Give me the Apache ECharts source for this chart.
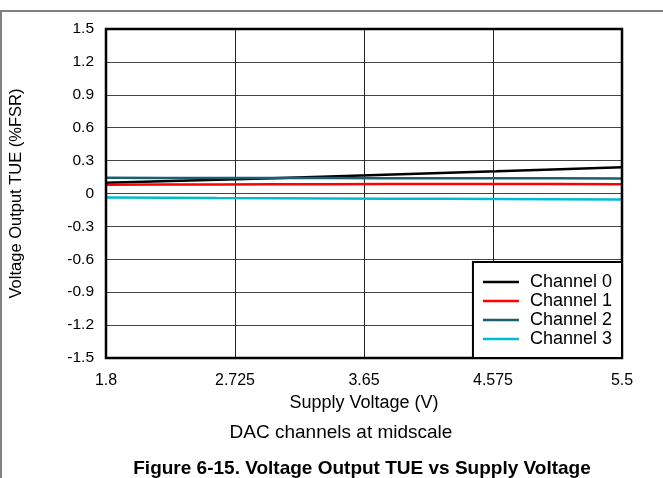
<!DOCTYPE html>
<html>
<head>
<meta charset="utf-8">
<script src="https://cdn.jsdelivr.net/npm/echarts@6/dist/echarts.min.js"></script>
<style>
html,body{margin:0;padding:0;background:#fff;}
#c{width:663px;height:478px;}
</style>
</head>
<body>
<div id="c"></div>
<script>
var xTickLabels = ['1.8', '2.725', '3.65', '4.575', '5.5'];
var supplyVoltage = [1.8, 2.2, 2.6, 3.0, 3.4, 3.8, 4.2, 4.6, 5.0, 5.5];
var channel0 = [0.098, 0.112, 0.126, 0.140, 0.155, 0.170, 0.186, 0.202, 0.219, 0.240];
var channel1 = [0.080, 0.082, 0.083, 0.084, 0.085, 0.086, 0.086, 0.087, 0.086, 0.085];
var channel2 = [0.143, 0.142, 0.142, 0.141, 0.141, 0.140, 0.139, 0.139, 0.138, 0.137];
var channel3 = [-0.036, -0.039, -0.042, -0.044, -0.046, -0.048, -0.049, -0.051, -0.052, -0.054];
var seriesNames = ['Channel 0', 'Channel 1', 'Channel 2', 'Channel 3'];
var seriesColors = ['#000000', '#ff0000', '#1b5e6e', '#00bcd0'];
var seriesValues = [channel0, channel1, channel2, channel3];

function pairs(xs, ys) { return xs.map(function (x, i) { return [x, ys[i]]; }); }

var chart = echarts.init(document.getElementById('c'), null, { renderer: 'canvas' });
var font = 'Arial, "Liberation Sans", sans-serif';

var series = seriesNames.map(function (n, i) {
  return {
    name: n, type: 'line', xAxisIndex: 1, yAxisIndex: 0,
    data: pairs(supplyVoltage, seriesValues[i]),
    showSymbol: false, symbol: 'none', smooth: false,
    lineStyle: { color: seriesColors[i], width: 2.5 },
    itemStyle: { color: seriesColors[i] },
    z: 3
  };
});

var option = {
  animation: false,
  backgroundColor: '#fff',
  grid: { left: 103, right: 41, top: 29, bottom: 120, show: true, borderColor: '#000', borderWidth: 2.5, backgroundColor: 'transparent', z: 5 },
  legend: {
    right: 41, bottom: 120, orient: 'vertical',
    backgroundColor: '#fff', borderColor: '#000', borderWidth: 2,
    padding: [11, 10, 10, 10], itemGap: 1, itemWidth: 36, itemHeight: 16,
    icon: 'path://M0,0 L36,0 L36,2.5 L0,2.5 Z',
    textStyle: { fontFamily: font, fontSize: 18, lineHeight: 16, color: '#000', padding: [0, 0, 0, 6] },
    data: seriesNames.map(function (n, i) { return { name: n, itemStyle: { color: seriesColors[i] } }; }),
    z: 10
  },
  xAxis: [
    {
      type: 'value', min: 0, max: 4, interval: 1, position: 'bottom',
      name: 'Supply Voltage (V)', nameLocation: 'middle', nameGap: 32,
      nameTextStyle: { fontFamily: font, fontSize: 18, color: '#000' },
      axisLine: { show: false }, axisTick: { show: false },
      axisLabel: { fontFamily: font, fontSize: 16, color: '#000', margin: 15,
        formatter: function (v) { return xTickLabels[Math.round(v)]; } },
      splitLine: { show: true, lineStyle: { color: '#222', width: 1 } }
    },
    {
      type: 'value', min: 1.8, max: 5.5, position: 'bottom', show: false,
      splitLine: { show: false }
    }
  ],
  yAxis: [{
    type: 'value', min: -1.5, max: 1.5, interval: 0.3,
    name: 'Voltage Output TUE (%FSR)', nameLocation: 'middle', nameGap: 81,
    nameTextStyle: { fontFamily: font, fontSize: 16.5, color: '#000' },
    axisLine: { show: false }, axisTick: { show: false },
    axisLabel: { fontFamily: font, fontSize: 15.5, color: '#000', margin: 12,
      formatter: function (v) { var r = Math.round(v * 10) / 10; return r === 0 ? '0' : String(r); } },
    splitLine: { show: true, lineStyle: { color: '#444', width: 1 } }
  }],
  graphic: [
    { type: 'line', shape: { x1: 0, y1: 11, x2: 663, y2: 11 }, style: { stroke: '#808080', lineWidth: 2 } },
    { type: 'line', shape: { x1: 1, y1: 11, x2: 1, y2: 478 }, style: { stroke: '#808080', lineWidth: 2 } },
    { type: 'text', x: 341, y: 433, style: { text: 'DAC channels at midscale', font: '19px ' + font, fill: '#000', textAlign: 'center', textVerticalAlign: 'middle' } },
    { type: 'text', x: 362, y: 469, style: { text: 'Figure 6-15. Voltage Output TUE vs Supply Voltage', font: 'bold 19px ' + font, fill: '#000', textAlign: 'center', textVerticalAlign: 'middle' } }
  ],
  series: series
};
chart.setOption(option);
</script>
</body>
</html>
